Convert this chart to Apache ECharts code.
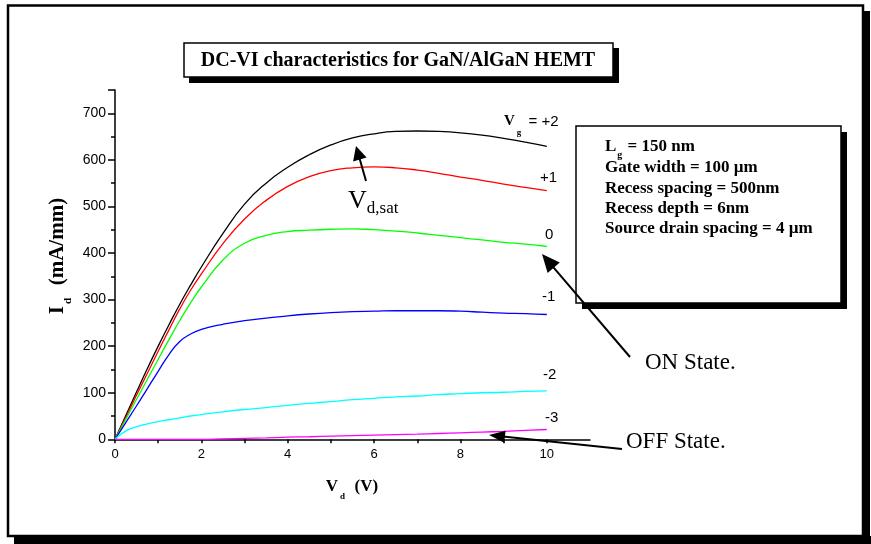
<!DOCTYPE html>
<html><head><meta charset="utf-8">
<script src="https://cdn.jsdelivr.net/npm/echarts@6/dist/echarts.min.js"></script>
<style>html,body{margin:0;padding:0;background:#fff}#c{width:871px;height:544px}</style>
</head><body><div id="c"></div><script>
// ---- data ----
const vdVolts   = [0,0.25,0.5,0.75,1,1.25,1.5,1.75,2,2.5,3,3.5,4,4.5,5,5.5,6,6.5,7,7.5,8,8.5,9,9.5,10];
const idVgPlus2 = [0,51,102,152,200,246,290,331,370,442,505,550,584,611,632,647,656,661,662,661,658,653,646,638,629];
const idVgPlus1 = [0,47,95,142,189,235,280,320,355,420,473,513,543,564,577,583,585,583,578,571,563,556,548,541,534];
const idVg0     = [0,43,86,129,172,214,255,293,327,385,421,438,446,449,451,452,450,447,443,438,433,428,423,419,414];
const idVgMinus1= [0,36,72,109,146,182,210,226,236,247,255,260,265,269,272,274,275,276,276,276,275,273,271,270,268];
const idVgMinus2= [0,18,27,33,38,42,46,50,53,59,64,68,73,77,81,85,88,91,93,96,98,100,101,103,104];
const idVgMinus3= [0,0,0,0,0,0,0,0,0,1,2,3,4.5,5.5,7,8,9,10,11,12.5,14,15.5,17,19,21];
const gateLabels = ['+2','+1','0','-1','-2','-3'];
const xTickLabels = [0,2,4,6,8,10];
const yTickLabels = [0,100,200,300,400,500,600,700];
const infoLines = ['{b|L}{s|g}{b| = 150 nm}','Gate width = 100 µm','Recess spacing = 500nm','Recess depth = 6nm','Source drain spacing = 4 µm'];
const titleText = 'DC-VI characteristics for GaN/AlGaN HEMT';

// ---- styles ----
const SERIF = '"Liberation Serif","Times New Roman",serif';
const SANS = '"Liberation Sans",Arial,sans-serif';
const colors = ['#000000','#ff0000','#00ff00','#0000ff','#00ffff','#ff00ff'];
const seriesData = [idVgPlus2,idVgPlus1,idVg0,idVgMinus1,idVgMinus2,idVgMinus3];

const chart = echarts.init(document.getElementById('c'), null, {renderer:'canvas'});

function arrow(sx,sy,tx,ty,L,W,lw){
  const dx=tx-sx, dy=ty-sy, d=Math.hypot(dx,dy), ux=dx/d, uy=dy/d;
  const bx=tx-ux*L, by=ty-uy*L, px=-uy, py=ux;
  return [
    {type:'line', z:20, shape:{x1:sx,y1:sy,x2:bx+ux*2,y2:by+uy*2}, style:{stroke:'#000',lineWidth:lw}},
    {type:'polygon', z:20, shape:{points:[[tx,ty],[bx+px*W,by+py*W],[bx-px*W,by-py*W]]}, style:{fill:'#000'}}
  ];
}
function t(x,y,text,extra){
  return {type:'text', z:20, x:x, y:y, style:Object.assign({text:text, fill:'#000'}, extra||{})};
}

const graphics = [
  // outer frame with shadow
  {type:'rect', z:1, shape:{x:14,y:536,width:857,height:8}, style:{fill:'#000'}},
  {type:'rect', z:1, shape:{x:863,y:11,width:7,height:533}, style:{fill:'#000'}},
  {type:'rect', z:1, shape:{x:8,y:5.5,width:855,height:530.5}, style:{fill:null,stroke:'#000',lineWidth:2.5}},
  // title box
  {type:'rect', z:10, shape:{x:189,y:48,width:430,height:35}, style:{fill:'#000'}},
  {type:'rect', z:11, shape:{x:184,y:43,width:429,height:34}, style:{fill:'#fff',stroke:'#000',lineWidth:1.5}},
  t(398,61,titleText,{font:'bold 20px '+SERIF, align:'center', verticalAlign:'middle'}),
  // info box
  {type:'rect', z:10, shape:{x:582,y:132,width:265,height:177}, style:{fill:'#000'}},
  {type:'rect', z:11, shape:{x:576,y:126,width:265,height:177}, style:{fill:'#fff',stroke:'#000',lineWidth:1.5}},
];
const infoBase=[150.7,174,195,215,235];
infoLines.forEach((s,i)=>{
  graphics.push(t(605, infoBase[i]-6 + (i===0?2:0), i===0 ? s : '{b|'+s+'}', {
    verticalAlign:'middle', align:'left',
    rich:{b:{font:'bold 17px '+SERIF, lineHeight:18, verticalAlign:'top'},
          s:{font:'bold 10px '+SERIF, lineHeight:10, padding:[13,1,0,1], verticalAlign:'top'}}
  }));
});
// curve labels
graphics.push(t(504,122,'{v|V}{s|g}{e| = +2}',{verticalAlign:'middle',
  rich:{v:{font:'bold 15px '+SERIF, lineHeight:16, verticalAlign:'top'},
        s:{font:'bold 9px '+SERIF, lineHeight:9, padding:[14,3,0,2], verticalAlign:'top'},
        e:{font:'15px '+SANS, lineHeight:16, verticalAlign:'top'}}}));
const labPos=[null,[540,178],[545,235],[542,297],[543,375],[545,418]];
for(let i=1;i<6;i++){
  graphics.push(t(labPos[i][0],labPos[i][1],gateLabels[i],{font:'15px '+SANS, verticalAlign:'middle'}));
}
// V_d,sat annotation
graphics.push(t(348,201,'{v|V}{s|d,sat}',{verticalAlign:'middle',
  rich:{v:{font:'26px '+SERIF, lineHeight:26, verticalAlign:'top'},
        s:{font:'17px '+SERIF, lineHeight:17, padding:[12,0,0,0], verticalAlign:'top'}}}));
graphics.push(...arrow(366,181,356,146,14,7,2));
// ON / OFF state
graphics.push(t(645,363,'ON State.',{font:'23px '+SERIF, verticalAlign:'middle'}));
graphics.push(...arrow(630,357,542,254,18,8,2));
graphics.push(t(626,442,'OFF State.',{font:'23px '+SERIF, verticalAlign:'middle'}));
graphics.push(...arrow(622,449,489,435,16,6,2));
// axis titles
graphics.push(t(352,487,'{v|V}{s|d}{v|  (V)}',{align:'center',verticalAlign:'middle',
  rich:{v:{font:'bold 17px '+SERIF, lineHeight:18, verticalAlign:'top'},
        s:{font:'bold 9px '+SERIF, lineHeight:9, padding:[14,1,0,2], verticalAlign:'top'}}}));
graphics.push({type:'text', z:20, x:58, y:256, rotation:Math.PI/2,
  style:{text:'{v|I}{s|d}{v|  (mA/mm)}', fill:'#000', align:'center', verticalAlign:'middle',
  rich:{v:{font:'bold 21px '+SERIF, lineHeight:22, verticalAlign:'top'},
        s:{font:'bold 11px '+SERIF, lineHeight:11, padding:[16,2,0,2], verticalAlign:'top'}}}});

const option = {
  animation:false,
  backgroundColor:'#fff',
  grid:{left:115, right:281, top:90, bottom:104.7, containLabel:false},
  xAxis:{type:'value', min:0, max:11, interval:1,
    axisLine:{show:true, lineStyle:{color:'#000', width:1.5}},
    axisTick:{show:true, length:4, lineStyle:{color:'#000', width:1.5}},
    axisLabel:{show:true, color:'#000', fontFamily:SANS, fontSize:13, margin:9, showMaxLabel:false,
      formatter:v=> xTickLabels.indexOf(v)>=0 ? String(v) : ''},
    splitLine:{show:false}},
  yAxis:{type:'value', min:0, max:750, interval:100,
    axisLine:{show:true, onZero:false, lineStyle:{color:'#000', width:1.5}},
    axisTick:{show:true, length:7, lineStyle:{color:'#000', width:1.5}},
    minorTick:{show:true, splitNumber:2, length:4, lineStyle:{color:'#000', width:1.5}},
    axisLabel:{show:true, color:'#000', fontFamily:SANS, fontSize:14, margin:9, showMaxLabel:false,
      formatter:v=> yTickLabels.indexOf(v)>=0 ? String(v) : ''},
    splitLine:{show:false}, minorSplitLine:{show:false}},
  series: seriesData.map((d,i)=>({
    type:'line', name:'Vg = '+gateLabels[i], data:vdVolts.map((v,j)=>[v,d[j]]),
    showSymbol:false, symbol:'none', smooth:0.5,
    lineStyle:{color:colors[i], width:1.3}, itemStyle:{color:colors[i]}, z:3
  })),
  graphic:graphics
};
chart.setOption(option);
</script></body></html>
